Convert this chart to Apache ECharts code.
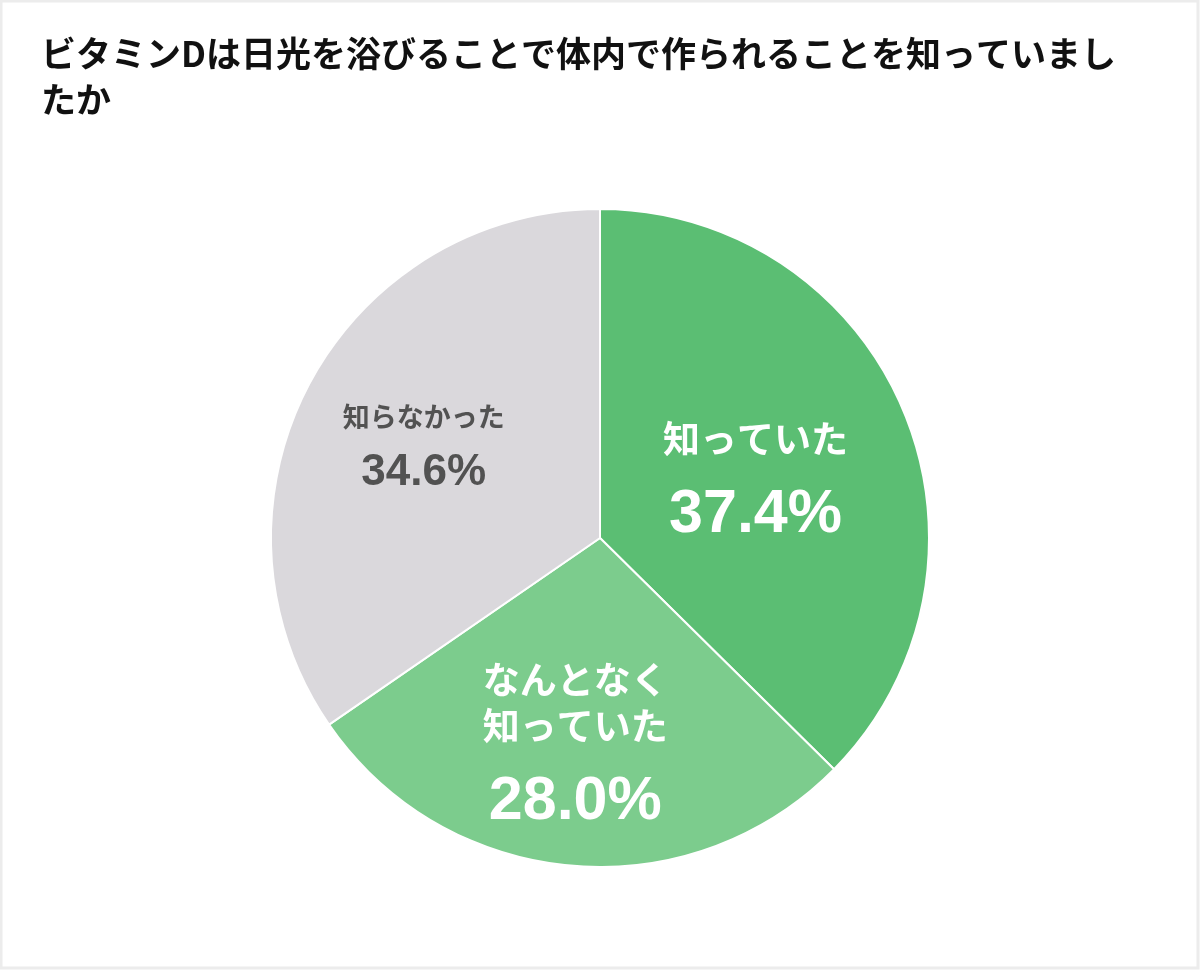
<!DOCTYPE html>
<html>
<head>
<meta charset="utf-8">
<script src="https://cdn.jsdelivr.net/npm/echarts@6/dist/echarts.min.js"></script>
<style>
  html, body { margin: 0; padding: 0; background: #fff; }
  #main { width: 1200px; height: 970px; }
</style>
</head>
<body>
<div id="main"></div>
<script>
// data
const titleLines = ['ビタミンDは日光を浴びることで体内で作られることを知っていまし', 'たか'];
const names = ['知っていた', 'なんとなく\n知っていた', '知らなかった'];
const values = [37.4, 28.0, 34.6];
const colors = ['#5bbe73', '#7ccc8d', '#dad8dc'];
// label nudges from the default inside spot
const labelShift = [[1, 19], [-10, 51], [-28, -4]];

const chart = echarts.init(document.getElementById('main'));

const jp = "'Noto Sans CJK JP', sans-serif";
const num = "'Liberation Sans', Arial, sans-serif";

function labelText(params) {
    const i = params.dataIndex;
    const big = i < 2;
    const nStyle = big ? 'n' : 'gn';
    const pStyle = big ? 'p' : 'gp';
    const lines = params.name.split('\n').map(s => '{' + nStyle + '|' + s + '}');
    return lines.join('\n') + '\n{' + pStyle + '|' + params.value.toFixed(1) + '%}';
}

let option = {
    backgroundColor: '#fff',
    animation: false,
    title: {
        text: titleLines.join('\n'),
        left: 36,
        top: 26,
        textStyle: {
            fontFamily: jp,
            fontWeight: 'bold',
            fontSize: 35,
            lineHeight: 46,
            color: '#111'
        }
    },
    graphic: [{
        type: 'rect',
        shape: { x: 1, y: 1, width: 1197, height: 967 },
        style: { fill: 'none', stroke: '#ececec', lineWidth: 3 },
        silent: true
    }],
    series: [{
        type: 'pie',
        center: [600, 538],
        radius: [0, 329],
        startAngle: 90,
        clockwise: true,
        emphasis: { disabled: true },
        itemStyle: { borderColor: '#fff', borderWidth: 2 },
        label: {
            show: true,
            position: 'inside',
            formatter: labelText,
            rich: {
                n: { fontFamily: jp, fontWeight: 'bold', fontSize: 37, lineHeight: 46, color: '#fff' },
                p: { fontFamily: num, fontWeight: 'bold', fontSize: 61, lineHeight: 106, color: '#fff' },
                gn: { fontFamily: jp, fontWeight: 'bold', fontSize: 27, lineHeight: 34, color: '#525252' },
                gp: { fontFamily: num, fontWeight: 'bold', fontSize: 44, lineHeight: 78, color: '#525252' }
            }
        },
        labelLine: { show: false },
        labelLayout: function (params) {
            const s = labelShift[params.dataIndex];
            return { dx: s[0], dy: s[1] };
        },
        data: names.map((n, i) => ({
            name: n,
            value: values[i],
            itemStyle: { color: colors[i] }
        }))
    }]
};

chart.setOption(option);
</script>
</body>
</html>
